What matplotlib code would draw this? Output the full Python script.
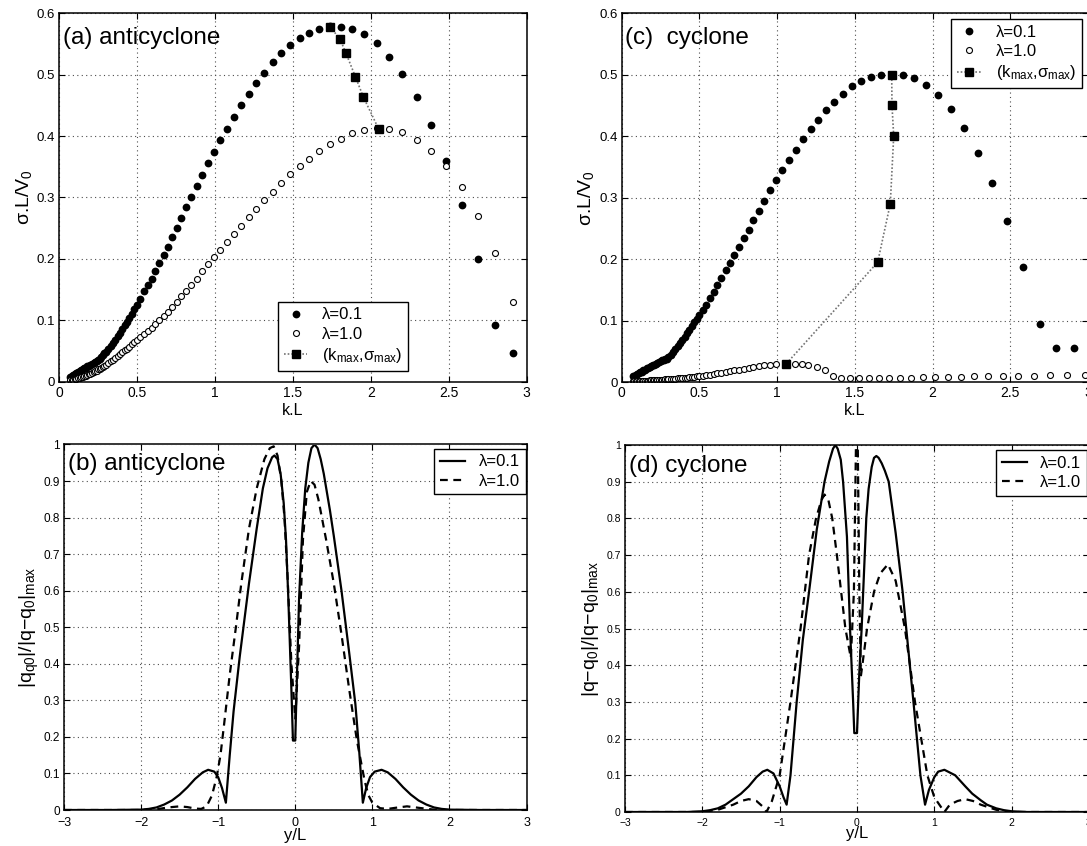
import matplotlib
matplotlib.use("Agg")
import matplotlib.pyplot as plt
from matplotlib.ticker import FixedLocator

plt.rcParams['font.family'] = ['Liberation Sans', 'DejaVu Sans']
plt.rcParams['mathtext.fontset'] = 'custom'
plt.rcParams['mathtext.rm'] = 'Liberation Sans'
plt.rcParams['mathtext.it'] = 'Liberation Sans'
plt.rcParams['mathtext.bf'] = 'Liberation Sans:bold'

# ---------------- data: growth rates (panels a, c) ----------------
k_grid = [0.07, 0.08, 0.09, 0.10, 0.11, 0.12, 0.13, 0.14, 0.15, 0.16, 0.17, 0.18,
          0.19, 0.20, 0.21, 0.22, 0.23, 0.24, 0.25, 0.26, 0.27, 0.28, 0.29, 0.30,
          0.315, 0.33, 0.345, 0.36, 0.375, 0.39, 0.405, 0.42, 0.435, 0.45, 0.466,
          0.482, 0.499, 0.52, 0.544, 0.571, 0.593, 0.616, 0.64, 0.669, 0.696,
          0.722, 0.753, 0.784, 0.816, 0.847, 0.882, 0.918, 0.956, 0.993, 1.033,
          1.078, 1.122, 1.167, 1.216, 1.262, 1.316, 1.369, 1.424, 1.482, 1.542,
          1.604, 1.669, 1.738, 1.809, 1.880, 1.956, 2.036, 2.118, 2.202, 2.293,
          2.384, 2.482, 2.584, 2.689, 2.796, 2.911]

sig_anti_01 = [0.008, 0.010, 0.011, 0.013, 0.014, 0.016, 0.017, 0.019, 0.020, 0.022,
               0.023, 0.025, 0.026, 0.028, 0.029, 0.030, 0.032, 0.033, 0.035, 0.037,
               0.040, 0.043, 0.046, 0.049, 0.053, 0.058, 0.063, 0.068, 0.074, 0.080,
               0.086, 0.092, 0.098, 0.104, 0.111, 0.118, 0.125, 0.135, 0.147, 0.157,
               0.168, 0.181, 0.194, 0.207, 0.220, 0.236, 0.251, 0.266, 0.284, 0.300,
               0.319, 0.337, 0.356, 0.374, 0.393, 0.412, 0.431, 0.450, 0.468, 0.486,
               0.503, 0.520, 0.535, 0.548, 0.559, 0.568, 0.575, 0.579, 0.578, 0.575,
               0.566, 0.551, 0.529, 0.501, 0.464, 0.418, 0.360, 0.287, 0.200, 0.092,
               0.047]

sig_anti_10 = [0.002, 0.0025, 0.003, 0.004, 0.005, 0.0055, 0.0065, 0.0075, 0.008, 0.009,
               0.010, 0.011, 0.012, 0.013, 0.014, 0.0155, 0.017, 0.018, 0.020, 0.021,
               0.023, 0.024, 0.026, 0.028, 0.030, 0.033, 0.036, 0.039, 0.042, 0.045,
               0.048, 0.051, 0.054, 0.057, 0.061, 0.064, 0.068, 0.072, 0.077, 0.083,
               0.088, 0.094, 0.100, 0.107, 0.114, 0.122, 0.130, 0.139, 0.148, 0.158,
               0.168, 0.180, 0.191, 0.2025, 0.215, 0.228, 0.241, 0.254, 0.268, 0.281,
               0.296, 0.309, 0.324, 0.338, 0.351, 0.363, 0.376, 0.387, 0.396, 0.405,
               0.410, 0.413, 0.411, 0.406, 0.394, 0.376, 0.351, 0.317, 0.270, 0.209,
               0.130]

kmax_anti = [1.738, 1.802, 1.840, 1.900, 1.951, 2.049]
smax_anti = [0.578, 0.558, 0.535, 0.497, 0.464, 0.412]

sig_cyc_01 = [0.009, 0.010, 0.012, 0.013, 0.015, 0.016, 0.017, 0.019, 0.020, 0.022,
              0.023, 0.024, 0.026, 0.027, 0.028, 0.030, 0.031, 0.032, 0.034, 0.035,
              0.036, 0.037, 0.038, 0.040, 0.044, 0.049, 0.054, 0.059, 0.064, 0.069,
              0.074, 0.080, 0.085, 0.091, 0.097, 0.103, 0.109, 0.117, 0.126, 0.137,
              0.147, 0.158, 0.169, 0.182, 0.194, 0.206, 0.220, 0.234, 0.248, 0.263,
              0.279, 0.295, 0.312, 0.328, 0.345, 0.362, 0.378, 0.395, 0.411, 0.427,
              0.442, 0.456, 0.469, 0.481, 0.490, 0.497, 0.500, 0.500, 0.500, 0.494,
              0.483, 0.467, 0.444, 0.413, 0.373, 0.324, 0.262, 0.187, 0.094, 0.056,
              0.056]

k_cyc_10 = [0.07, 0.08, 0.09, 0.10, 0.11, 0.12, 0.13, 0.14, 0.15, 0.16, 0.17, 0.18,
            0.19, 0.20, 0.21, 0.22, 0.23, 0.24, 0.25, 0.26, 0.27, 0.28, 0.29, 0.30,
            0.315, 0.33, 0.345, 0.36, 0.375, 0.39, 0.405, 0.42, 0.435, 0.45, 0.466,
            0.482, 0.499, 0.52, 0.544, 0.571, 0.593, 0.616, 0.64, 0.669, 0.696,
            0.722, 0.753, 0.784, 0.816, 0.847, 0.882, 0.918, 0.956, 0.993, 1.06,
            1.115, 1.16, 1.20, 1.257, 1.308, 1.362, 1.414, 1.47, 1.528, 1.591, 1.654,
            1.72, 1.792, 1.864, 1.938, 2.016, 2.097, 2.18, 2.265, 2.357, 2.45, 2.55,
            2.651, 2.754, 2.865, 2.98]
sig_cyc_10 = [0.001, 0.001, 0.0012, 0.0015, 0.0016, 0.0017, 0.0018, 0.0019, 0.002, 0.0022,
              0.0024, 0.0026, 0.0028, 0.003, 0.0031, 0.0032, 0.0033, 0.0034, 0.0035, 0.0037,
              0.0039, 0.0041, 0.0043, 0.0045, 0.0048, 0.0051, 0.0054, 0.0057, 0.006, 0.0065,
              0.007, 0.0073, 0.0076, 0.008, 0.0085, 0.009, 0.0095, 0.010, 0.011, 0.012,
              0.013, 0.014, 0.015, 0.0165, 0.0175, 0.019, 0.020, 0.0215, 0.023, 0.024,
              0.0255, 0.027, 0.028, 0.029, 0.030, 0.030, 0.029, 0.027, 0.024, 0.019,
              0.010, 0.0065, 0.006, 0.0065, 0.0065, 0.0065, 0.007, 0.007, 0.007, 0.0075,
              0.0075, 0.008, 0.0085, 0.009, 0.009, 0.0095, 0.010, 0.0105, 0.011, 0.0115,
              0.012]

kmax_cyc = [1.06, 1.647, 1.728, 1.750, 1.739, 1.737]
smax_cyc = [0.030, 0.195, 0.290, 0.400, 0.450, 0.500]

# ---------------- data: eigenfunctions (panels b, d) ----------------
y_b_01 = [-3.0, -2.4, -2.0, -1.9, -1.8, -1.7, -1.6, -1.5, -1.4, -1.3, -1.2, -1.13,
          -1.05, -1.0, -0.95, -0.9, -0.85, -0.8, -0.72, -0.6, -0.5, -0.42, -0.36,
          -0.3, -0.27, -0.23, -0.19, -0.15, -0.12, -0.09, -0.05, -0.03, 0.0, 0.02,
          0.05, 0.09, 0.13, 0.17, 0.21, 0.25, 0.29, 0.33, 0.37, 0.45, 0.5, 0.6,
          0.7, 0.78, 0.83, 0.877, 0.92, 0.97, 1.03, 1.12, 1.2, 1.3, 1.4, 1.5, 1.6,
          1.7, 1.8, 1.9, 2.0, 2.4, 3.0]
q_b_01 = [0.0, 0.0, 0.001, 0.003, 0.007, 0.015, 0.026, 0.042, 0.062, 0.085, 0.103,
          0.110, 0.105, 0.09, 0.06, 0.02, 0.15, 0.27, 0.42, 0.62, 0.77, 0.88, 0.935,
          0.965, 0.97, 0.96, 0.92, 0.84, 0.74, 0.58, 0.33, 0.19, 0.19, 0.35,
          0.58, 0.76, 0.88, 0.95, 0.99, 1.0, 0.99, 0.96, 0.92, 0.82, 0.75, 0.60,
          0.43, 0.29, 0.16, 0.02, 0.06, 0.09, 0.105, 0.110, 0.103, 0.085, 0.062,
          0.042, 0.026, 0.015, 0.007, 0.003, 0.001, 0.0, 0.0]

y_b_10 = [-3.0, -2.0, -1.8, -1.65, -1.5, -1.4, -1.3, -1.22, -1.15, -1.08, -1.02, -0.97,
          -0.92, -0.85, -0.77, -0.7, -0.6, -0.5, -0.4, -0.33, -0.28, -0.23, -0.18,
          -0.14, -0.1, -0.05, 0.0, 0.05, 0.1, 0.15, 0.2, 0.25, 0.3, 0.4, 0.5, 0.6,
          0.7, 0.8, 0.9, 0.95, 1.0, 1.1, 1.2, 1.3, 1.45, 1.6, 1.8, 2.0, 3.0]
q_b_10 = [0.0, 0.0, 0.002, 0.007, 0.010, 0.008, 0.004, 0.003, 0.010, 0.04, 0.09, 0.15,
          0.24, 0.37, 0.50, 0.62, 0.77, 0.88, 0.96, 0.99, 0.995, 0.97, 0.90,
          0.80, 0.64, 0.40, 0.25, 0.45, 0.74, 0.87, 0.90, 0.89, 0.85, 0.74, 0.62,
          0.48, 0.33, 0.19, 0.08, 0.04, 0.02, 0.005, 0.003, 0.006, 0.010, 0.006,
          0.001, 0.0, 0.0]

y_d_01 = [-3.0, -2.2, -2.0, -1.9, -1.8, -1.7, -1.6, -1.5, -1.4, -1.3, -1.22, -1.16,
          -1.08, -1.0, -0.95, -0.91, -0.86, -0.78, -0.7, -0.62, -0.52, -0.42, -0.36,
          -0.31, -0.28, -0.25, -0.21, -0.18, -0.13, -0.09, -0.05, -0.035, 0.0, 0.03,
          0.06, 0.12, 0.15, 0.19, 0.22, 0.25, 0.28, 0.32, 0.36, 0.41, 0.5, 0.59,
          0.66, 0.73, 0.82, 0.88, 0.93, 1.0, 1.05, 1.13, 1.27, 1.4, 1.49, 1.6,
          1.68, 1.8, 1.9, 2.0, 2.2, 3.0]
q_d_01 = [0.0, 0.0, 0.002, 0.005, 0.010, 0.020, 0.035, 0.050, 0.070, 0.095, 0.110,
          0.115, 0.105, 0.070, 0.040, 0.020, 0.10, 0.30, 0.47, 0.60, 0.77, 0.90,
          0.955, 0.99, 1.0, 0.99, 0.96, 0.90, 0.75, 0.50, 0.30, 0.215, 0.215, 0.38,
          0.50, 0.80, 0.88, 0.94, 0.965, 0.97, 0.965, 0.95, 0.93, 0.90, 0.76, 0.60,
          0.45, 0.30, 0.10, 0.02, 0.06, 0.095, 0.11, 0.115, 0.10, 0.07, 0.05,
          0.032, 0.02, 0.01, 0.005, 0.002, 0.0, 0.0]

y_d_10 = [-3.0, -2.0, -1.8, -1.6, -1.5, -1.4, -1.3, -1.22, -1.17, -1.1, -1.0, -0.86,
          -0.73, -0.62, -0.53, -0.46, -0.42, -0.37, -0.32, -0.26, -0.15, -0.08,
          -0.04, -0.01, 0.01, 0.03, 0.05, 0.1, 0.13, 0.22, 0.3, 0.4, 0.5, 0.62, 0.75,
          0.91, 1.0, 1.13, 1.2, 1.3, 1.4, 1.5, 1.6, 1.8, 2.0, 3.0]
q_d_10 = [0.0, 0.0, 0.006, 0.020, 0.030, 0.035, 0.030, 0.015, 0.0, 0.03, 0.10, 0.30,
          0.50, 0.70, 0.80, 0.85, 0.865, 0.85, 0.80, 0.70, 0.50, 0.42, 0.60, 1.05,
          1.0, 0.60, 0.37, 0.45, 0.50, 0.60, 0.65, 0.675, 0.63, 0.50, 0.30, 0.10,
          0.04, 0.0, 0.02, 0.03, 0.035, 0.03, 0.02, 0.006, 0.0, 0.0]

# ---------------- figure ----------------
W, H = 1087, 846
fig = plt.figure(figsize=(W / 100, H / 100), dpi=100)


def ax_at(l, t, r, b):
    return fig.add_axes([l / W, 1 - b / H, (r - l) / W, (b - t) / H])


ax_a = ax_at(59.3, 13.3, 526.7, 381.7)
ax_c = ax_at(621.7, 13.3, 1088.0, 382.0)
ax_b = ax_at(64.0, 444.5, 526.5, 810.0)
ax_d = ax_at(625.0, 445.0, 1089.0, 812.0)

grid_kw = dict(linestyle=(0, (1, 3)), color='0.3', linewidth=0.8)


def style(ax, xt, yt, xlim, ylim, xfs, yfs, xpad=3):
    ax.set_xlim(*xlim)
    ax.set_ylim(*ylim)
    ax.xaxis.set_major_locator(FixedLocator(xt))
    ax.yaxis.set_major_locator(FixedLocator(yt))
    ax.set_xticklabels([('%g' % v).replace('-', '\u2212') for v in xt], fontsize=xfs)
    ax.set_yticklabels(['%g' % v for v in yt], fontsize=yfs)
    ax.tick_params(direction='in', length=4, width=0.8, top=True, right=True, pad=3)
    ax.tick_params(axis='x', pad=xpad)
    ax.grid(True, **grid_kw)
    ax.set_axisbelow(True)
    for s in ax.spines.values():
        s.set_linewidth(1.1)
        s.set_color('black')


k_ticks = [0, 0.5, 1, 1.5, 2, 2.5, 3]
s_ticks = [0, 0.1, 0.2, 0.3, 0.4, 0.5, 0.6]
y_ticks = [-3, -2, -1, 0, 1, 2, 3]
q_ticks = [0, 0.1, 0.2, 0.3, 0.4, 0.5, 0.6, 0.7, 0.8, 0.9, 1]

leg_kw = dict(frameon=True, fancybox=False, framealpha=1, edgecolor='black',
              borderpad=0.35, labelspacing=0.25, borderaxespad=0, fontsize=12)

lam01 = '\u03bb=0.1'
lam10 = '\u03bb=1.0'
kmax_lab = '(k$_{max}$,\u03c3$_{max}$)'

# ---- (a) ----
ax = ax_a
style(ax, k_ticks, s_ticks, (0, 3), (0, 0.6), 10, 9.5)
ax.plot(k_grid, sig_anti_01, 'o', color='black', ms=5.6, mew=0, label=lam01)
ax.plot(k_grid, sig_anti_10, 'o', mfc='white', mec='black', ms=4.3, mew=0.8,
        label=lam10)
ax.plot(kmax_anti, smax_anti, linestyle=(0, (1, 1.2)), color='0.45', lw=1.2,
        marker='s', mfc='black', mec='black', ms=5.8, label=kmax_lab)
ax.text(0.008, 0.962, '(a) anticyclone', transform=ax.transAxes, fontsize=17.5,
        va='top', ha='left')
ax.set_xlabel('k.L', fontsize=11.5, labelpad=2)
ax.set_ylabel('\u03c3.L/V$_{0}$', fontsize=14, labelpad=2)
ax.legend(loc='lower left', bbox_to_anchor=(0.468, 0.03), handlelength=1.4,
          handletextpad=0.9, **leg_kw)

# ---- (c) ----
ax = ax_c
style(ax, k_ticks, s_ticks, (0, 3), (0, 0.6), 10, 9.5)
ax.plot(k_grid, sig_cyc_01, 'o', color='black', ms=5.6, mew=0, label=lam01)
ax.plot(k_cyc_10, sig_cyc_10, 'o', mfc='white', mec='black', ms=4.3, mew=0.8,
        label=lam10)
ax.plot(kmax_cyc, smax_cyc, linestyle=(0, (1, 1.2)), color='0.45', lw=1.2,
        marker='s', mfc='black', mec='black', ms=5.8, label=kmax_lab)
ax.text(0.008, 0.962, '(c)  cyclone', transform=ax.transAxes, fontsize=17.5,
        va='top', ha='left')
ax.set_xlabel('k.L', fontsize=11.5, labelpad=2)
ax.set_ylabel('\u03c3.L/V$_{0}$', fontsize=14, labelpad=2)
ax.legend(loc='upper right', bbox_to_anchor=(0.987, 0.984), handlelength=1.4,
          handletextpad=0.9, **leg_kw)

# ---- (b) ----
ax = ax_b
style(ax, y_ticks, q_ticks, (-3, 3), (0, 1), 9, 8.5, xpad=5)
ax.plot(y_b_01, q_b_01, '-', color='black', lw=1.6, label=lam01)
ax.plot(y_b_10, q_b_10, color='black', lw=1.6, linestyle=(0, (3.5, 2.5)),
        label=lam10)
ax.text(0.008, 0.977, '(b) anticyclone', transform=ax.transAxes, fontsize=17.5,
        va='top', ha='left')
ax.set_xlabel('y/L', fontsize=12, labelpad=-1)
ax.set_ylabel('|q$_{q0}$|/|q\u2212q$_{0}$|$_{max}$', fontsize=14, labelpad=2)
ax.legend(loc='upper right', bbox_to_anchor=(0.998, 0.989), handlelength=1.5,
          handletextpad=0.8, **leg_kw)

# ---- (d) ----
ax = ax_d
style(ax, y_ticks, q_ticks, (-3, 3), (0, 1), 7.5, 7.5, xpad=4)
ax.plot(y_d_01, q_d_01, '-', color='black', lw=1.6, label=lam01)
ax.plot(y_d_10, q_d_10, color='black', lw=1.6, linestyle=(0, (3.5, 2.5)),
        label=lam10)
ax.text(0.008, 0.972, '(d) cyclone', transform=ax.transAxes, fontsize=17.5,
        va='top', ha='left')
ax.set_xlabel('y/L', fontsize=12, labelpad=-1)
ax.set_ylabel('|q\u2212q$_{0}$|/|q\u2212q$_{0}$|$_{max}$', fontsize=14, labelpad=4)
ax.legend(loc='upper right', bbox_to_anchor=(0.996, 0.986), handlelength=1.5,
          handletextpad=0.8, **leg_kw)

fig.savefig('out.png', dpi=100)
